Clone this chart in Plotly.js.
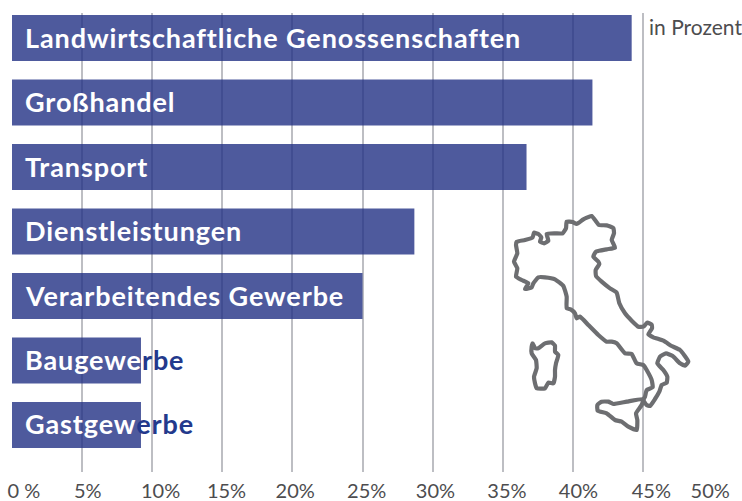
<!DOCTYPE html>
<html><head><meta charset="utf-8">
<script src="https://cdn.plot.ly/plotly-3.0.1.min.js"></script>
<style>html,body{margin:0;padding:0;background:#fff}
.annotation text{letter-spacing:0.9px}
.annotation[data-index="7"] text{letter-spacing:0}</style>
</head><body><div id="chart" style="width:742px;height:501px"></div>
<script>
const categories = ["Landwirtschaftliche Genossenschaften","Großhandel","Transport","Dienstleistungen","Verarbeitendes Gewerbe","Baugewerbe","Gastgewerbe"];
const values = [44.2,41.4,36.7,28.7,25.0,9.2,9.2];
const labelsInsideBar = ["Landwirtschaftliche Genossenschaften","Großhandel","Transport","Dienstleistungen","Verarbeitendes Gewerbe","Baugewe","Gastgew"];
const labelsOutsideBar = ["","","","","","rbe","erbe"];
const gridValues = [0,5,10,15,20,25,30,35,40,45,50];
const tickLabels = ["0 %","5%","10%","15%","20%","25%","30%","35%","40%","45%","50%"];
const tickLabelCentres = [0.85,5.4,10.6,15.3,20.2,25.3,30.2,35.3,40.4,45.6,49.8];
const mainlandX = [50,75,98,102,115,124,120,132,145,140,165,188,198,200,218,230,250,275,285,297,320,340,342,335,345,320,288,280,295,298,287,288,305,330,350,358,375,395,415,430,442,455,456,445,460,490,515,540,565,555,540,518,498,480,472,490,502,500,485,478,465,450,440,430,435,440,458,455,440,430,410,395,375,350,335,320,295,265,240,230,225,212,200,200,190,165,135,115,100,95,75,85,65,48,52,42,52,48,50];
const mainlandY = [125,120,112,98,102,112,125,130,122,102,100,100,85,65,66,72,58,48,60,75,76,84,100,120,143,148,155,170,185,192,210,228,245,265,278,310,340,362,380,380,368,374,385,403,412,422,438,450,485,497,490,468,460,470,490,510,530,548,555,575,597,618,615,600,590,570,562,540,510,495,490,462,460,430,425,425,405,375,350,355,340,328,325,290,258,238,232,232,250,262,267,250,240,230,205,185,160,135,125];
const sicilyX = [430,380,340,325,305,292,293,320,345,365,385,410,412,408,425,430];
const sicilyY = [597,605,612,605,605,615,632,640,660,665,680,690,660,640,615,597];
const sardiniaX = [98,105,115,135,155,165,165,175,168,165,165,160,145,135,110,105,102,110,108,95,95,98];
const sardiniaY = [430,445,445,430,427,437,455,465,490,510,530,550,548,565,565,550,530,505,480,460,440,430];

const barBlue = "rgb(34,49,132)", textBlue = "#23398c", mapGrey = "#6d6e71", inkGrey = "#4d4d4f";
const outline = (x,y,name) => ({type:"scatter",mode:"lines",x:x,y:y,name:name,xaxis:"x2",yaxis:"y2",
  hoverinfo:"skip",line:{color:mapGrey,width:4.2,shape:"spline",smoothing:0.4}});
const traces = [
  {type:"bar",orientation:"h",x:values,y:categories,marker:{color:barBlue,opacity:0.8,line:{width:0}},hoverinfo:"x+y"},
  outline(mainlandX,mainlandY,"Italien"),
  outline(sicilyX,sicilyY,"Sizilien"),
  outline(sardiniaX,sardiniaY,"Sardinien"),
  {type:"scatter",mode:"markers",x:tickLabelCentres,y:tickLabelCentres.map(()=>categories[0]),xaxis:"x3",yaxis:"y",marker:{opacity:0},hoverinfo:"skip",showlegend:false}
];
const labelFont = {family:"Lato, sans-serif",size:27,color:"#fff",weight:700};
const annotations = categories.map((c,i)=>({
  xref:"x",yref:"y",x:0.78,y:c,xanchor:"left",yanchor:"middle",yshift:1,showarrow:false,align:"left",
  text:labelsInsideBar[i]+(labelsOutsideBar[i]?`<span style="color:${textBlue}">${labelsOutsideBar[i]}</span>`:""),
  font:labelFont
}));
annotations.push({xref:"x",yref:"paper",x:45.3,y:1,xanchor:"left",yanchor:"middle",yshift:-13,showarrow:false,
  text:"in Prozent",font:{family:"Lato, sans-serif",size:21,color:inkGrey,weight:400}});
const layout = {
  width:742,height:501,margin:{l:12,r:29,t:13,b:29},paper_bgcolor:"#fff",plot_bgcolor:"#fff",
  showlegend:false,bargap:0.287,
  xaxis:{range:[0,50],tickmode:"array",tickvals:gridValues,showticklabels:false,ticks:"",showgrid:true,gridcolor:"#bdbec3",gridwidth:2,zeroline:false,showline:false},
  yaxis:{type:"category",categoryorder:"array",categoryarray:categories,range:[6.729,-0.388],showticklabels:false,ticks:"",showgrid:false,zeroline:false,showline:false},
  xaxis2:{overlaying:"x",range:[-1464,639],visible:false,fixedrange:true},
  yaxis2:{overlaying:"y",range:[816,-561],visible:false,fixedrange:true},
  xaxis3:{overlaying:"x",side:"bottom",range:[0,50],tickmode:"array",tickvals:tickLabelCentres,ticktext:tickLabels,ticks:"",showgrid:false,zeroline:false,showline:false,ticklabelstandoff:5,
    tickfont:{family:"Lato, sans-serif",size:20,color:inkGrey,weight:400}},
  annotations:annotations
};
Plotly.newPlot("chart",traces,layout,{displayModeBar:false,staticPlot:true});
</script></body></html>
